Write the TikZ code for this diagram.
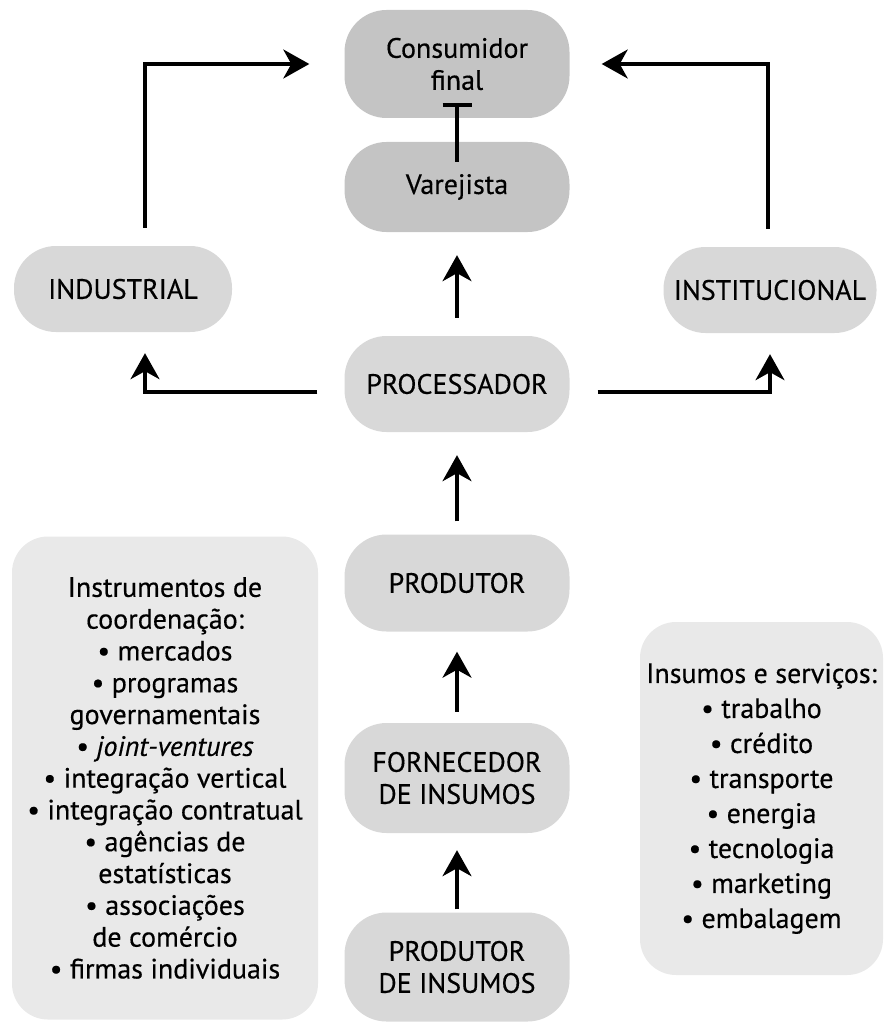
\documentclass[tikz,border=0pt]{standalone}
\usepackage{fontspec}
\setmainfont{PT Sans}[UprightFeatures={FakeBold=0.4},ItalicFeatures={FakeBold=0.4}]
\usetikzlibrary{arrows.meta,calc}
\definecolor{darkbox}{RGB}{196,196,196}
\definecolor{midbox}{RGB}{216,216,216}
\definecolor{lightbox}{RGB}{233,233,233}
\begin{document}
\begin{tikzpicture}[x=1pt,y=-1pt,
  stage/.style={rounded corners=42pt, fill=midbox, minimum width=225pt, align=center,
    inner sep=0pt, font=\fontsize{28}{32}\selectfont, text=black},
  darkstage/.style={stage, fill=darkbox},
  infobox/.style={rounded corners=36pt, fill=lightbox, align=center, inner sep=0pt,
    text=black},
  arr/.style={line width=3.4pt, -{Stealth[length=26pt, width=29pt, inset=8pt]}},
  tee/.style={line width=3.4pt, -{Bar[width=29pt, line width=3.4pt]}}
]
\useasboundingbox (0,0) rectangle (884,1027);

\node[darkstage, minimum height=108pt] (cons) at (457,64) {Consumidor\\final};
\node[darkstage, minimum height=90pt] (var) at (457,187) {Varejista};
\node[stage, minimum width=218pt, minimum height=86pt] (ind) at (123,289) {INDUSTRIAL};
\node[stage, minimum width=213pt, minimum height=86pt] (inst) at (770,290) {INSTITUCIONAL};
\node[stage, minimum height=96pt] (proc) at (457,384) {PROCESSADOR};
\node[stage, minimum height=97pt] (prod) at (457,583) {PRODUTOR};
\node[stage, minimum height=110pt] (forn) at (457,778) {FORNECEDOR\\DE INSUMOS};
\node[stage, minimum height=109pt] (pins) at (457,967) {PRODUTOR\\DE INSUMOS};

\node[infobox, minimum width=306pt, minimum height=483pt,
  font=\fontsize{28}{31.8}\selectfont] (instr) at (165,778)
  {Instrumentos de\\coordenação:\\• mercados\\• programas\\governamentais\\• \textit{joint-ventures}\\• integração vertical\\• integração contratual\\• agências de\\estatísticas\\• associações\\de comércio\\• firmas individuais};

\node[infobox, minimum width=243pt, minimum height=353pt,
  font=\fontsize{28}{35}\selectfont] (insum) at (761.5,798.5)
  {Insumos e serviços:\\• trabalho\\• crédito\\• transporte\\• energia\\• tecnologia\\• marketing\\• embalagem};

% T connector
\draw[tee] ([yshift=-20pt]var.north) -- ([yshift=15pt]cons.south);

% vertical arrows
\draw[arr] ([yshift=18pt]proc.north) -- ([yshift=-23pt]var.south);
\draw[arr] ([yshift=13pt]prod.north) -- ([yshift=-23pt]proc.south);
\draw[arr] ([yshift=11pt]forn.north) -- ([yshift=-20pt]prod.south);
\draw[arr] ([yshift=3pt]pins.north) -- ([yshift=-17pt]forn.south);

% side arrows
\coordinate (pl) at ($(proc.west)+(-27pt,-8pt)$);
\coordinate (pr) at ($(proc.east)+(28pt,-8pt)$);
\draw[arr] (pl) -| ([xshift=22pt,yshift=-21pt]ind.south);
\draw[arr] (pr) -| ([yshift=-21pt]inst.south);
\draw[arr] ([xshift=22pt,yshift=18pt]ind.north) |- ([xshift=-35pt]cons.west);
\draw[arr] ([xshift=-2pt,yshift=18pt]inst.north) |- ([xshift=32pt]cons.east);
\end{tikzpicture}
\end{document}
